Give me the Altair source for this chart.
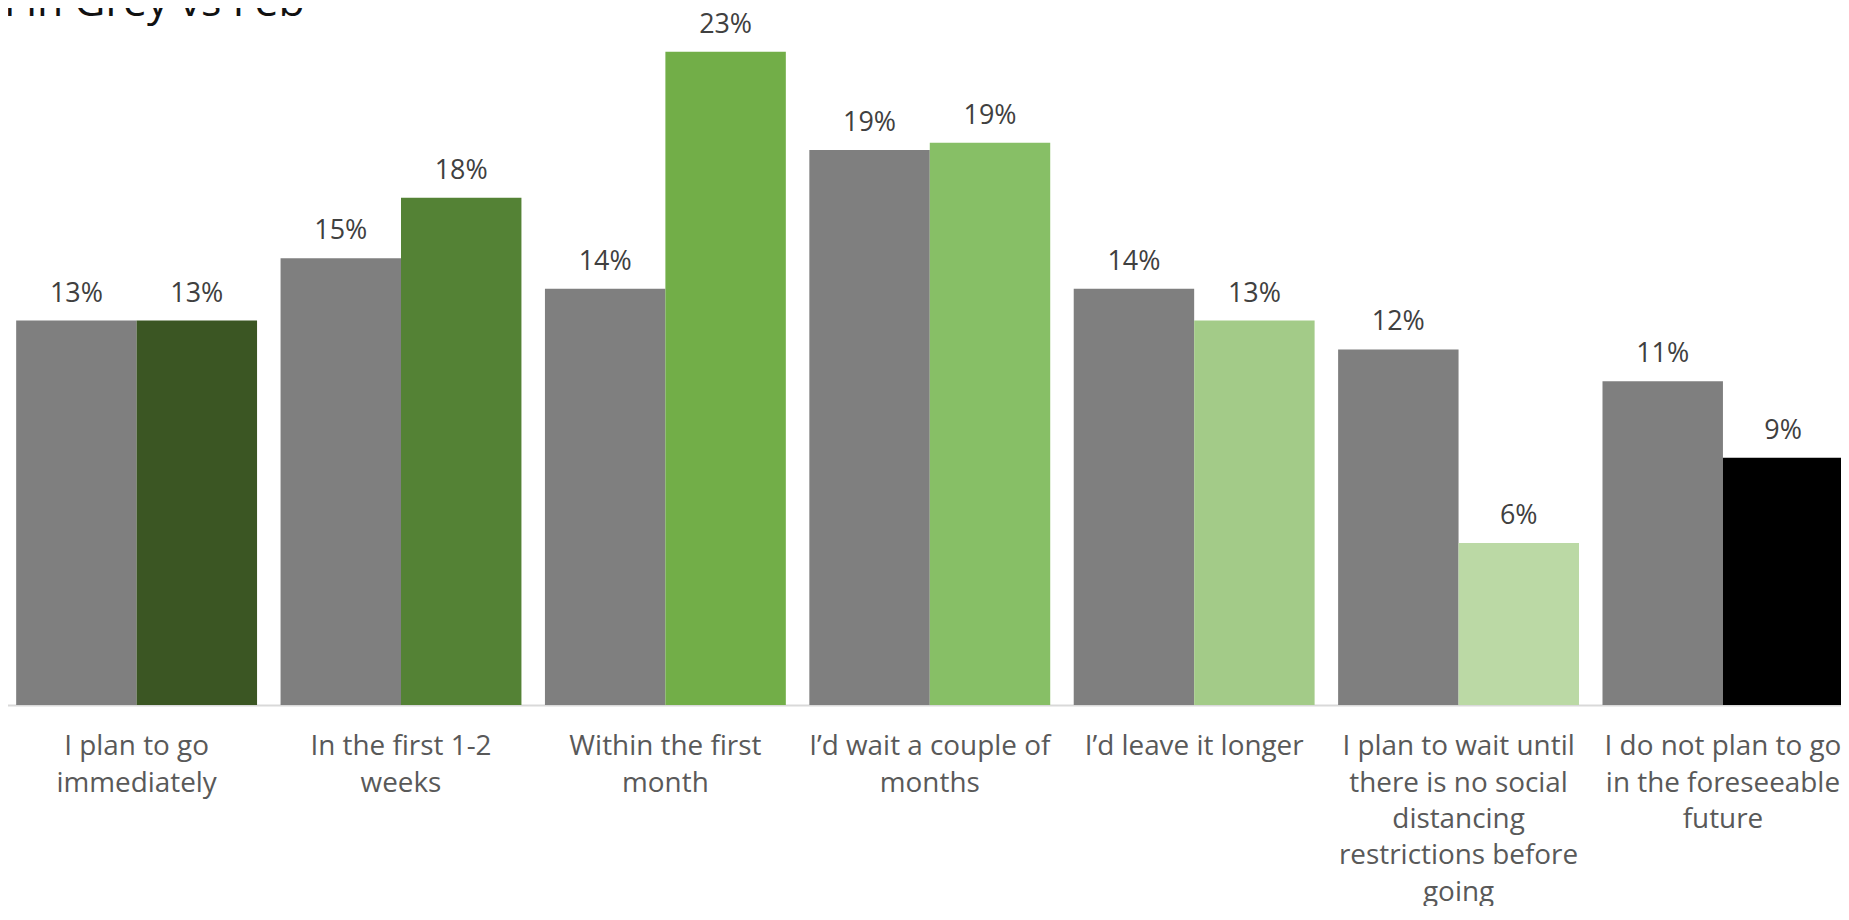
import altair as alt
import pandas as pd

# ---- data ----
category_lines = [
    ["I plan to go", "immediately"],
    ["In the first 1-2", "weeks"],
    ["Within the first", "month"],
    ["I\u2019d wait a couple of", "months"],
    ["I\u2019d leave it longer"],
    ["I plan to wait until", "there is no social", "distancing", "restrictions before", "going"],
    ["I do not plan to go", "in the foreseeable", "future"],
]
categories = ["\n".join(lines) for lines in category_lines]
previous_wave = [0.133, 0.1545, 0.144, 0.192, 0.144, 0.123, 0.112]   # grey bars
latest_wave = [0.133, 0.1755, 0.226, 0.1945, 0.133, 0.056, 0.0855]   # coloured bars
series_names = ["Grey", "Feb"]
title_text = "n in Grey vs Feb"

# ---- styles ----
bar_keys = ["grey"] + [f"c{i}" for i in range(len(categories))]
bar_colors = ["#7f7f7f", "#3b5623", "#548235", "#72ae48", "#87bf66",
              "#a3cb88", "#bbd9a5", "#000000"]

rows = []
for i, cat in enumerate(categories):
    rows.append({"cat": cat, "series": series_names[0], "value": previous_wave[i], "key": "grey"})
    rows.append({"cat": cat, "series": series_names[1], "value": latest_wave[i], "key": f"c{i}"})
df = pd.DataFrame(rows)

FONT = "Open Sans"
PLOT_W = 1841
PLOT_H = 698
Y_MAX = 698 / 2903.0

x_enc = alt.X(
    "cat:N",
    sort=categories,
    scale=alt.Scale(range=[-3.8, 1855.4], paddingInner=0.0889, paddingOuter=0.0452),
    axis=alt.Axis(
        title=None,
        labelAngle=0,
        labelExpr="split(datum.label, '\\n')",
        labelFont=FONT,
        labelFontSize=28,
        labelColor="#595959",
        labelLineHeight=36.5,
        labelPadding=28,
        labelLimit=0,
        labelOverlap=False,
        ticks=False,
        domainColor="#d9d9d9",
        domainWidth=2,
        grid=False,
    ),
)
xoff_enc = alt.XOffset("series:N", sort=series_names,
                       scale=alt.Scale(paddingInner=0, paddingOuter=0))
y_enc = alt.Y("value:Q", scale=alt.Scale(domain=[0, Y_MAX], nice=False, zero=True), axis=None)

base = alt.Chart(df)

bars = base.mark_bar().encode(
    x=x_enc,
    xOffset=xoff_enc,
    y=y_enc,
    color=alt.Color("key:N", scale=alt.Scale(domain=bar_keys, range=bar_colors), legend=None),
)

labels = base.mark_text(
    font=FONT, fontSize=27, color="#404040", baseline="alphabetic", dy=-19
).encode(
    x=x_enc,
    xOffset=xoff_enc,
    y=y_enc,
    text=alt.Text("value:Q", format=".0%"),
)

title = alt.Chart(pd.DataFrame({"t": [title_text]})).mark_text(
    font=FONT, fontSize=43, color="#111111", align="right", baseline="alphabetic"
).encode(
    x=alt.value(298),
    y=alt.value(6),
    text="t:N",
)

chart = alt.layer(bars, labels, title).properties(
    width=PLOT_W,
    height=PLOT_H,
    autosize=alt.AutoSizeParams(type="none"),
    padding={"left": 0, "top": 0, "right": 0, "bottom": 200},
).configure_view(stroke=None)

chart.save("out.html", embed_options={"renderer": "svg", "actions": False})
